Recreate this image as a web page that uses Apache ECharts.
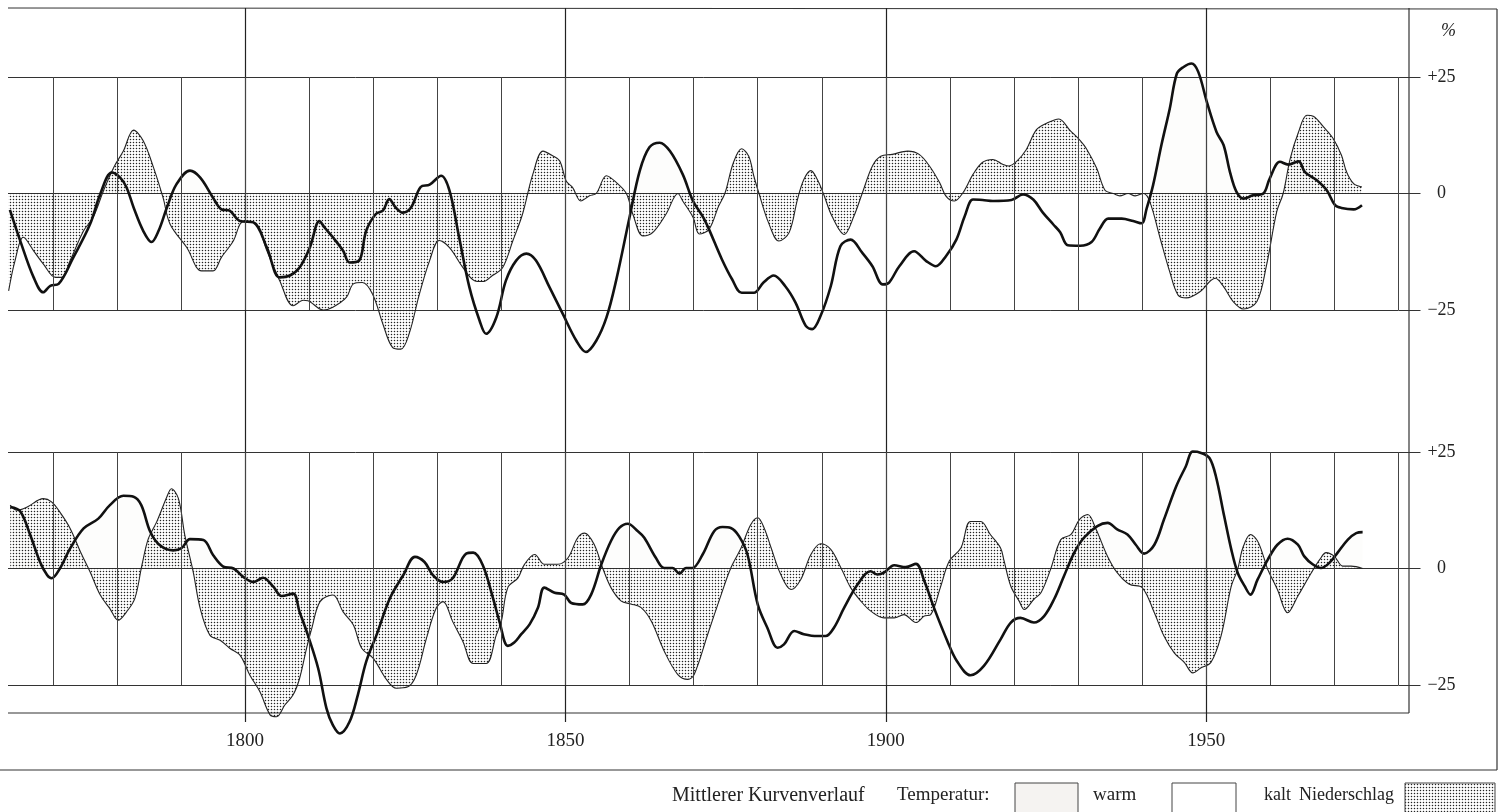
<!DOCTYPE html>
<html>
<head>
<meta charset="utf-8">
<script src="https://cdn.jsdelivr.net/npm/echarts@6/dist/echarts.min.js"></script>
<style>
html,body{margin:0;padding:0;background:#fff;}
#chart{width:1506px;height:812px;}
</style>
</head>
<body>
<div id="chart"></div>
<script>
// ---------- DATA ----------
const decadeYears = [1770,1780,1790,1800,1810,1820,1830,1840,1850,1860,1870,1880,1890,1900,1910,1920,1930,1940,1950,1960,1970,1980];
const labelYears = [1800,1850,1900,1950];

// upper panel: precipitation (thin line, stippled) and temperature (thick line)
const topPrecYears = [1763.1,1764.1,1765.4,1767.0,1768.5,1770.4,1771.4,1772.7,1774.8,1776.3,1777.9,1779.5,1781.0,1782.6,1784.1,1785.7,1787.2,1788.3,1790.9,1793.2,1795.0,1796.3,1798.2,1799.2,1800.0,1801.8,1803.4,1805.4,1807.5,1809.1,1809.8,1812.2,1813.7,1815.8,1816.9,1818.3,1819.9,1821.5,1823.0,1824.3,1825.6,1827.2,1828.8,1830.3,1831.9,1834.0,1835.8,1837.1,1838.6,1840.2,1841.8,1843.3,1844.9,1846.5,1848.0,1849.1,1850.1,1851.1,1852.4,1853.75,1854.8,1856.4,1857.9,1859.5,1860.5,1862.1,1863.6,1865.7,1867.55,1868.3,1869.9,1870.9,1872.4,1873.9,1874.9,1876.2,1877.5,1878.6,1879.4,1880.2,1881.7,1883.3,1884.9,1886.2,1887.2,1888.3,1889.3,1890.3,1891.6,1893.5,1895.0,1896.3,1897.9,1899.2,1901.0,1903.4,1905.2,1906.8,1908.4,1909.4,1910.7,1912.0,1913.6,1915.1,1916.7,1918.3,1919.1,1920.4,1921.9,1923.5,1925.1,1927.0,1928.7,1930.3,1931.3,1932.9,1934.2,1935.5,1936.5,1937.8,1938.9,1940.2,1941.2,1942.8,1944.3,1945.6,1946.9,1949.0,1951.4,1952.7,1954.2,1955.8,1957.9,1959.4,1961.0,1962.0,1963.1,1964.4,1965.7,1966.7,1968.3,1969.8,1971.1,1971.9,1973.0,1974.3];
const topPrecValues = [-20.9,-14.4,-9.4,-12.3,-15.1,-18,-18,-14.4,-8,-5.1,0.6,5.6,9.1,13.6,11.3,5.6,-0.9,-6.6,-11.6,-16.6,-16.6,-13.7,-10.1,-6.6,-5.9,-6.6,-12.3,-18.7,-24.1,-22.9,-23,-25,-24.4,-22.3,-19.4,-19.1,-21.6,-28,-33,-33.4,-30.1,-21.6,-14.4,-10.1,-11.6,-15.9,-18.7,-18.9,-17.6,-15.9,-10.1,-4.4,4.1,9.1,8.1,7,2.7,1.3,-1.6,-0.5,0,3.8,2.4,0,-4.4,-9.1,-8.4,-4.4,0,-1.6,-5.1,-8.7,-7.7,-2.7,0.1,6.6,9.6,8,3.7,0,-6.3,-10.2,-8.4,-1.3,3,4.9,3,-0.2,-4.9,-8.8,-4.9,0,5.9,8,8.4,9.1,8.4,5.9,2.3,-0.6,-1.6,0.1,4.1,6.7,7.3,6.2,5.9,6.9,9.4,13.7,15.1,16,13.6,11.4,9.6,5.4,0.7,0,-0.5,0,-0.5,0,-1.8,-9.6,-16.8,-21.8,-22.4,-21.1,-18.2,-20,-23.2,-24.8,-23.2,-15.4,-3.9,0,7.5,13.2,16.8,16.6,14.3,11.8,8.2,4.6,2.1,1.4];

const topTempYears = [1763.3,1764.9,1767.0,1768.5,1769.6,1770.9,1773.2,1775.8,1777.4,1779.2,1780.5,1781.5,1782.6,1784.1,1785.4,1786.5,1787.8,1789.3,1791.4,1793.0,1795.0,1796.3,1797.6,1799.2,1801.3,1803.4,1805.4,1807.0,1808.5,1810.1,1811.6,1812.4,1813.7,1815.3,1816.3,1817.8,1818.9,1820.4,1821.5,1822.5,1823.5,1824.6,1825.9,1827.4,1828.8,1830.6,1831.9,1833.4,1835.0,1836.6,1837.6,1839.2,1840.7,1842.3,1843.9,1845.4,1847.5,1849.6,1851.7,1853.2,1854.8,1856.4,1857.9,1860.0,1861.6,1863.1,1864.7,1866.3,1868.3,1869.9,1871.5,1872.4,1874.4,1876.0,1877.5,1879.4,1880.9,1882.5,1884.3,1885.9,1887.5,1888.5,1889.8,1891.4,1892.9,1894.5,1896.3,1897.9,1899.5,1900.5,1902.1,1904.4,1906.3,1907.8,1909.4,1911.0,1912.3,1913.6,1915.1,1916.7,1919.6,1921.4,1923.0,1924.5,1926.1,1927.2,1928.4,1930.3,1932.1,1933.4,1934.7,1936.8,1938.6,1939.9,1940.7,1941.7,1943.0,1944.3,1945.4,1946.4,1947.7,1948.75,1950.1,1951.6,1952.7,1953.7,1954.7,1955.8,1957.3,1958.9,1959.9,1961.5,1962.8,1964.4,1965.4,1967.2,1968.8,1970.1,1971.1,1973.0,1974.3];
const topTempValues = [-3.5,-10.1,-18,-21.2,-19.8,-19.4,-13.7,-6.6,-0.1,4.5,3.4,1.3,-3,-8,-10.4,-8,-3,2,4.9,3.4,-0.9,-3.4,-3.7,-5.9,-6.2,-11.6,-18,-17.6,-15.9,-11.6,-5.9,-7.3,-9.4,-12.3,-14.8,-14.4,-8,-4.4,-3.7,-1.2,-3,-4.1,-3,1.4,1.9,3.8,0.6,-9.4,-20.1,-27.3,-30.1,-26.6,-18.7,-14.4,-12.9,-14.4,-20.1,-25.9,-31.6,-34,-31.6,-26.6,-18.7,-5.1,4.9,9.9,10.9,9.1,4.1,-1.6,-5.1,-7.7,-14.1,-18.4,-21.3,-21.3,-19.1,-17.6,-19.9,-23.4,-28.4,-29.1,-26.3,-19.9,-11.3,-9.9,-12.7,-15.6,-19.5,-19.1,-15.6,-12.4,-14.5,-15.6,-13.4,-9.9,-4.9,-1.3,-1.4,-1.6,-1.4,-0.2,-1.3,-4.1,-6.6,-8.3,-11.1,-11.2,-10.4,-7.5,-5.4,-5.4,-5.9,-6.4,-3.2,1.8,10.4,18.2,25.7,27.1,27.9,26.1,19.6,13.2,10.4,4.6,0.4,-1.1,-0.4,0,3.2,6.8,6.2,6.9,4.6,2.9,0.7,-2.5,-3.1,-3.4,-2.5];

// lower panel
const botPrecYears = [1763.35,1764.4,1766.0,1768.5,1769.8,1771.1,1772.7,1774.3,1775.8,1777.4,1778.9,1780.2,1781.5,1782.8,1783.9,1784.9,1786.2,1787.8,1788.5,1789.6,1790.6,1791.9,1793.0,1794.5,1796.1,1797.6,1799.2,1800.75,1802.3,1803.9,1804.9,1806.2,1807.5,1808.5,1809.6,1810.4,1811.7,1813.7,1815.3,1816.9,1818.2,1820.0,1822.1,1823.6,1825.4,1826.7,1828.3,1829.8,1830.9,1832.4,1834.0,1835.6,1837.6,1839.2,1840.0,1841.0,1842.6,1843.6,1845.2,1846.7,1848.8,1850.4,1851.9,1853.0,1854.5,1855.8,1857.1,1858.7,1860.2,1861.8,1863.4,1865.4,1867.5,1869.1,1870.1,1872.2,1874.3,1875.8,1877.4,1878.9,1880.0,1881.0,1882.1,1883.6,1885.2,1886.7,1888.3,1889.8,1891.4,1893.0,1894.5,1896.1,1897.6,1899.7,1901.3,1902.8,1904.7,1906.0,1907.0,1908.5,1909.9,1911.7,1913.2,1914.8,1916.3,1917.9,1918.4,1919.5,1920.8,1921.6,1923.1,1924.2,1925.7,1927.3,1928.9,1930.2,1931.5,1932.8,1934.6,1936.1,1938.0,1940.0,1941.9,1943.4,1945.0,1946.6,1947.9,1949.2,1950.7,1952.3,1953.9,1954.9,1955.7,1956.9,1958.0,1959.1,1959.6,1961.1,1962.7,1964.3,1966.4,1967.7,1968.7,1970.0,1971.3,1972.6,1974.4];
const botPrecValues = [13.6,12.5,13.2,15,14.3,12.1,8.6,3.6,-0.7,-5.7,-8.6,-11.1,-9.3,-6.4,0.7,6.4,10,15.4,17.1,15,7.1,-0.7,-8.6,-14.3,-15.4,-17.1,-18.6,-22.9,-26.4,-31.4,-31.8,-29.3,-27.1,-23.6,-17.1,-12.9,-7.1,-5.7,-9.3,-12.1,-17.1,-19.3,-23.9,-25.7,-25.4,-22.9,-15,-8.6,-7.1,-11.4,-15.7,-20.4,-20.4,-14.3,-11.3,-4.1,-2,0.9,3,0.9,0.9,2.3,6.6,7.6,5.1,0.1,-4.1,-7,-7.6,-8.4,-11.3,-17.7,-22.7,-23.8,-22.7,-14.1,-5.6,0.1,4.4,9.4,10.9,8.7,4.4,-1.3,-4.5,-2.4,3,5.3,4.1,0.1,-4.1,-7,-9.1,-10.6,-10.6,-9.9,-11.6,-10.2,-9.9,-4.1,1.6,4.4,10.1,10.1,7.3,4.4,1.9,-3.8,-7,-8.8,-6.6,-5.2,-0.2,6.2,7.3,10.5,11.6,8.4,2.6,-0.9,-3.4,-4.1,-9.5,-14.5,-18.1,-20.2,-22.4,-21.3,-20.2,-14.5,-3.8,-0.2,4.4,7.3,5.9,1.9,-0.2,-4.5,-9.5,-5.9,-0.9,1.9,3.4,2.6,0.5,0.5,0];

const botTempYears = [1763.35,1764.9,1766.5,1768.0,1769.1,1769.8,1771.1,1772.7,1774.8,1777.1,1778.9,1781.0,1782.6,1783.8,1785.2,1786.7,1788.8,1790.1,1791.4,1793.5,1795.0,1796.6,1798.2,1799.7,1801.3,1802.8,1804.4,1805.7,1807.5,1808.5,1809.8,1811.4,1812.7,1813.7,1814.8,1816.3,1817.6,1818.9,1820.5,1822.6,1824.7,1826.5,1828.0,1829.3,1830.9,1832.4,1834.5,1835.6,1837.1,1838.7,1839.7,1841.0,1842.0,1843.1,1844.4,1845.7,1846.7,1848.3,1849.8,1850.9,1852.7,1854.0,1855.6,1857.1,1858.4,1859.7,1861.3,1862.3,1864.1,1865.4,1866.7,1867.8,1868.8,1869.8,1871.4,1873.2,1874.5,1875.8,1877.1,1878.4,1880.0,1881.5,1883.1,1884.1,1885.7,1887.2,1889.3,1890.6,1891.9,1893.5,1895.6,1897.6,1898.7,1899.7,1901.3,1903.1,1904.7,1906.0,1907.5,1909.6,1911.1,1913.2,1915.3,1917.9,1919.5,1921.0,1923.1,1924.7,1926.25,1927.8,1929.4,1930.9,1933.0,1934.6,1936.1,1937.7,1939.0,1940.3,1941.9,1943.4,1945.3,1946.8,1947.9,1949.2,1950.5,1951.5,1952.8,1953.9,1954.9,1956.0,1956.9,1958.0,1959.6,1961.1,1962.7,1964.3,1965.3,1966.6,1967.9,1969.2,1970.5,1972.1,1973.4,1974.4];
const botTempValues = [13.2,12.3,7.1,1.4,-1.4,-2.1,0,4.3,8.6,10.7,13.6,15.6,15.4,13.6,7.9,5,3.9,4.4,6.3,6.1,2.9,0.4,0,-1.8,-2.9,-2,-3.9,-5.9,-5.4,-9.3,-14.3,-21.4,-30,-33.6,-35.4,-32.9,-27.1,-20,-14.3,-6.4,-1.4,2.5,1.4,-1.4,-2.9,-2.1,3.2,3.4,0.7,-6.4,-11.4,-16.6,-15.9,-14.1,-12,-8.4,-4.1,-5.2,-5.6,-7.4,-7.7,-5.6,0.9,5.9,8.7,9.6,8,6.6,2.3,0.1,0.1,-1.1,0.1,0.1,3,8,8.9,8.7,6.9,3,-7.7,-12.7,-17,-16.3,-13.4,-14.1,-14.5,-14.5,-12.7,-8.4,-3.4,-0.6,-1.3,-0.9,0.7,0.3,1,-2.7,-8.4,-15.6,-19.9,-22.9,-20.9,-15.2,-11.6,-10.6,-11.6,-10.2,-6.6,-1.6,3.4,6.6,9.1,9.8,8.4,7.3,5.1,3.2,5.1,10.5,17.6,21.9,25.1,24.8,23.7,19.8,11.2,4.1,-0.9,-3.8,-5.6,-2.4,1.9,5.1,6.4,5.1,2.6,0.9,0.1,1.2,3.4,6.2,7.6,7.8];

// ---------- helpers ----------
function zip(xs, ys){ return xs.map((x,i)=>[x, ys[i]]); }
function warmPart(xs, ys){ return xs.map((x,i)=>[x, Math.max(0, ys[i])]); }

const pc = document.createElement('canvas');
pc.width = 3; pc.height = 3;
const pctx = pc.getContext('2d');
pctx.fillStyle = '#222';
pctx.beginPath(); pctx.arc(1.5,1.5,0.78,0,Math.PI*2); pctx.fill();
const stipple = {image: pc, repeat: 'repeat'};

const SERIF = '"Liberation Serif", "DejaVu Serif", serif';
const X0 = 1763, X1 = 1980;

const chart = echarts.init(document.getElementById('chart'), null, {renderer:'canvas'});

function panelYAxis(gi){
  return {
    gridIndex: gi, type:'value', position:'right', min:-25, max:25, interval:25,
    axisLine:{show:false},
    axisTick:{show:true, length:22, lineStyle:{color:'#333', width:1}},
    splitLine:{show:true, lineStyle:{color:'#333', width:1}},
    axisLabel:{
      show:true, margin:43, align:'center', color:'#222', fontFamily:SERIF, fontSize:18,
      formatter: v => v > 0 ? '+' + v : (v < 0 ? '\u2212' + Math.abs(v) : '0')
    }
  };
}
function panelXAxis(gi){
  return {gridIndex:gi, type:'value', min:X0, max:X1, show:false};
}
function decadeSeries(gi){
  return {
    type:'line', xAxisIndex:gi, yAxisIndex:gi, data:[], silent:true, z:1,
    markLine:{
      silent:true, symbol:['none','none'], animation:false,
      label:{show:false},
      lineStyle:{color:'#444', width:1, type:'solid'},
      data: decadeYears.map(y => ({xAxis:y}))
    }
  };
}
function warmSeries(gi, xs, ys){
  return {
    type:'line', xAxisIndex:gi, yAxisIndex:gi, data:warmPart(xs, ys), smooth:0.35,
    showSymbol:false, silent:true, clip:false, z:2,
    lineStyle:{width:0, opacity:0},
    areaStyle:{color:'rgba(170,150,130,0.03)', origin:0}
  };
}
function precSeries(gi, xs, ys){
  return {
    type:'line', xAxisIndex:gi, yAxisIndex:gi, data:zip(xs, ys), smooth:0.35,
    showSymbol:false, silent:true, clip:false, z:3,
    lineStyle:{width:1.1, color:'#222'},
    areaStyle:{color:stipple, origin:0, opacity:1}
  };
}
function tempSeries(gi, xs, ys){
  return {
    type:'line', xAxisIndex:gi, yAxisIndex:gi, data:zip(xs, ys), smooth:0.35,
    showSymbol:false, silent:true, clip:false, z:4,
    lineStyle:{width:2.6, color:'#111'}
  };
}

const option = {
  animation:false,
  backgroundColor:'#fff',
  grid:[
    {left:8, top:77, width:1390.5, height:233},
    {left:8, top:452, width:1390.5, height:233},
    {left:8, top:8, width:1390.5, height:714}
  ],
  xAxis:[ panelXAxis(0), panelXAxis(1), panelXAxis(2) ],
  yAxis:[
    panelYAxis(0), panelYAxis(1),
    {gridIndex:2, type:'value', min:0, max:1, show:false}
  ],
  series:[
    {
      type:'line', xAxisIndex:2, yAxisIndex:2, data:[], silent:true, z:1,
      markLine:{
        silent:true, symbol:['none','none'], animation:false,
        lineStyle:{color:'#222', width:1.2, type:'solid'},
        label:{show:true, position:'start', distance:10, color:'#222', fontFamily:SERIF, fontSize:19,
               formatter: p => String(p.value)},
        data: labelYears.map(y => ({xAxis:y}))
      }
    },
    decadeSeries(0), decadeSeries(1),
    warmSeries(0, topTempYears, topTempValues),
    warmSeries(1, botTempYears, botTempValues),
    precSeries(0, topPrecYears, topPrecValues),
    precSeries(1, botPrecYears, botPrecValues),
    tempSeries(0, topTempYears, topTempValues),
    tempSeries(1, botTempYears, botTempValues)
  ],
  graphic:[
    // frame
    {type:'line', shape:{x1:8, y1:8, x2:1497, y2:9}, style:{stroke:'#333', lineWidth:1.2}, silent:true},
    {type:'line', shape:{x1:1409, y1:8, x2:1409, y2:713}, style:{stroke:'#333', lineWidth:1.2}, silent:true},
    {type:'line', shape:{x1:8, y1:713, x2:1409, y2:713}, style:{stroke:'#333', lineWidth:1.2}, silent:true},
    {type:'line', shape:{x1:1497, y1:9, x2:1497, y2:770}, style:{stroke:'#333', lineWidth:1.2}, silent:true},
    {type:'line', shape:{x1:0, y1:770, x2:1497, y2:770}, style:{stroke:'#333', lineWidth:1.2}, silent:true},
    // unit
    {type:'text', left:1441, top:22, style:{text:'%', font:'italic 18px ' + SERIF, fill:'#222'}, silent:true},
    // legend
    {type:'text', left:672, top:786, style:{text:'Mittlerer Kurvenverlauf', font:'20px ' + SERIF, fill:'#222'}, silent:true},
    {type:'text', left:897, top:786, style:{text:'Temperatur:', font:'19px ' + SERIF, fill:'#222'}, silent:true},
    {type:'rect', shape:{x:1015, y:783, width:63, height:32}, style:{fill:'#f5f3f1', stroke:'#444', lineWidth:1}, silent:true},
    {type:'text', left:1093, top:786, style:{text:'warm', font:'19px ' + SERIF, fill:'#222'}, silent:true},
    {type:'rect', shape:{x:1172, y:783, width:64, height:32}, style:{fill:'#fff', stroke:'#444', lineWidth:1}, silent:true},
    {type:'text', left:1264, top:786, style:{text:'kalt', font:'18px ' + SERIF, fill:'#222'}, silent:true},
    {type:'text', left:1299, top:786, style:{text:'Niederschlag', font:'18px ' + SERIF, fill:'#222'}, silent:true},
    {type:'rect', shape:{x:1405, y:783, width:90, height:32}, style:{fill:stipple, stroke:'#444', lineWidth:1}, silent:true}
  ]
};
chart.setOption(option);
</script>
</body>
</html>
